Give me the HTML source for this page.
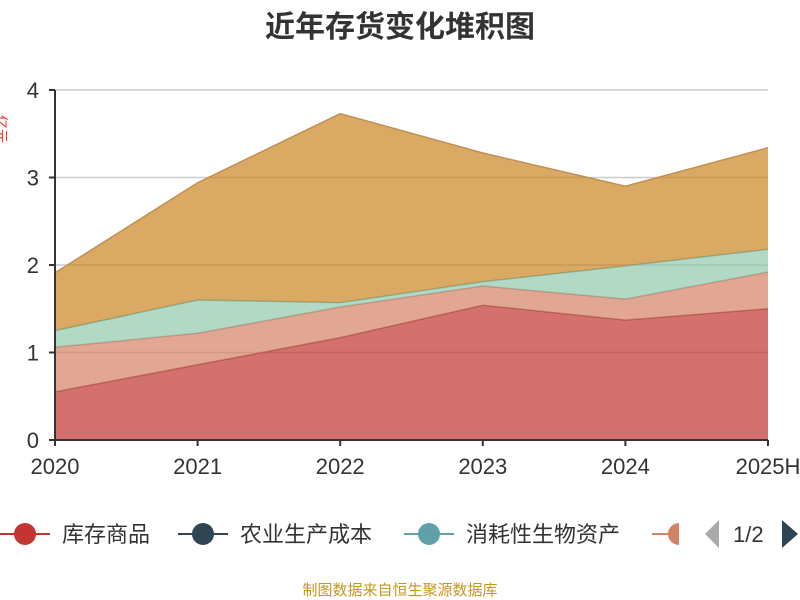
<!DOCTYPE html>
<html><head><meta charset="utf-8"><style>
body{margin:0;background:#fff;font-family:"Liberation Sans","Noto Sans CJK SC",sans-serif}
#wrap{position:relative;width:800px;height:600px;overflow:hidden}
</style></head><body>
<div id="wrap">
<svg id="chart" width="800" height="600">
<text x="400" y="37" text-anchor="middle" font-size="30" font-weight="bold" fill="#333" font-family="Liberation Sans,Noto Sans CJK SC,sans-serif">近年存货变化堆积图</text>
<text x="-4" y="115" font-size="14" fill="#f33" transform="rotate(90 -4 115)" font-family="Noto Sans CJK SC,sans-serif">亿元</text>
<g id="grid"></g><g id="areas"></g><g id="axes"></g>
<g font-family="Liberation Sans,Noto Sans CJK SC,sans-serif" font-size="22" fill="#333">
<g><line x1="0" y1="534" x2="50" y2="534" stroke="#c23531" stroke-width="2"/><circle cx="25" cy="534" r="11" fill="#c23531"/><text x="62" y="542">库存商品</text></g>
<g><line x1="178" y1="534" x2="228" y2="534" stroke="#2f4554" stroke-width="2"/><circle cx="203" cy="534" r="11" fill="#2f4554"/><text x="240" y="542">农业生产成本</text></g>
<g><line x1="404" y1="534" x2="454" y2="534" stroke="#61a0a8" stroke-width="2"/><circle cx="429" cy="534" r="11" fill="#61a0a8"/><text x="466" y="542">消耗性生物资产</text></g>
<g><line x1="652" y1="534" x2="670" y2="534" stroke="#d48265" stroke-width="2"/><path d="M679 523 A11 11 0 0 0 679 545 Z" fill="#d48265"/></g>
<path d="M705 534 L719 520 L719 548 Z" fill="#aaa"/>
<text x="733" y="542">1/2</text>
<path d="M782 520 L798 534 L782 548 Z" fill="#2f4554"/>
</g>
<text x="400" y="595" text-anchor="middle" font-size="15" fill="#c8961e" font-family="Noto Sans CJK SC,sans-serif">制图数据来自恒生聚源数据库</text>
</svg></div>
<script>
const categories=["2020","2021","2022","2023","2024","2025H"];
const inventoryGoods=[0.55,0.86,1.17,1.54,1.37,1.50];
const seriesSalmon=[0.51,0.36,0.35,0.22,0.24,0.42];
const seriesGreen=[0.19,0.38,0.05,0.05,0.38,0.26];
const seriesGold=[0.66,1.34,2.16,1.47,0.91,1.16];
const yTicks=[0,1,2,3,4];
const NS="http://www.w3.org/2000/svg";
const X0=55,X1=768,Y0=440,YT=90,YMAX=4;
const xs=i=>X0+(X1-X0)*i/(categories.length-1);
const ys=v=>Y0-(Y0-YT)*v/YMAX;
function mk(t,a,p){const e=document.createElementNS(NS,t);for(const k in a)e.setAttribute(k,a[k]);p.appendChild(e);return e;}
const grid=document.getElementById('grid'),areas=document.getElementById('areas'),axes=document.getElementById('axes');
yTicks.forEach(t=>{
 if(t>0){const g=mk('line',{x1:X0,x2:X1,y1:ys(t),y2:ys(t),stroke:'#ccc','stroke-width':1.5},grid);
 
 }
 const tk=mk('line',{x1:X0-6,x2:X0,y1:ys(t),y2:ys(t),stroke:'#333','stroke-width':2},axes);
 
 
 const l=mk('text',{x:X0-16,y:ys(t)+8,'text-anchor':'end','font-size':22,fill:'#333'},axes);l.textContent=t;
 
 
});
const layers=[[inventoryGoods,'rgba(194,53,49,0.7)','#b05550','area-inventory-goods'],[seriesSalmon,'rgba(212,130,101,0.7)','#c48a75','area-series-4'],[seriesGreen,'rgba(145,199,174,0.7)','#7fb5a5','area-bio-assets'],[seriesGold,'rgba(202,134,34,0.7)','#c09050','area-series-5']];
let base=categories.map(()=>0);
layers.forEach(([vals,fill,stroke,name])=>{
 const top=base.map((b,i)=>b+vals[i]);
 let d='M'+top.map((v,i)=>xs(i)+','+ys(v)).join(' L');
 for(let i=base.length-1;i>=0;i--)d+=' L'+xs(i)+','+ys(base[i]);
 const p=mk('path',{d:d+'Z',fill:fill,stroke:'none'},areas);
 
 
 const ln=mk('polyline',{points:top.map((v,i)=>xs(i)+','+ys(v)).join(' '),fill:'none',stroke:stroke,'stroke-width':1.5},areas);
 
 
 base=top;
});
const ya=mk('line',{x1:X0,x2:X0,y1:YT,y2:Y0,stroke:'#333','stroke-width':2},axes);


const xa=mk('line',{x1:X0,x2:X1,y1:Y0,y2:Y0,stroke:'#333','stroke-width':2},axes);


categories.forEach((c,i)=>{
 const tk=mk('line',{x1:xs(i),x2:xs(i),y1:Y0,y2:Y0+6,stroke:'#333','stroke-width':2},axes);
 
 
 const l=mk('text',{x:xs(i),y:474,'text-anchor':'middle','font-size':22,fill:'#333'},axes);l.textContent=c;
 
 
});
</script>
</body></html>
